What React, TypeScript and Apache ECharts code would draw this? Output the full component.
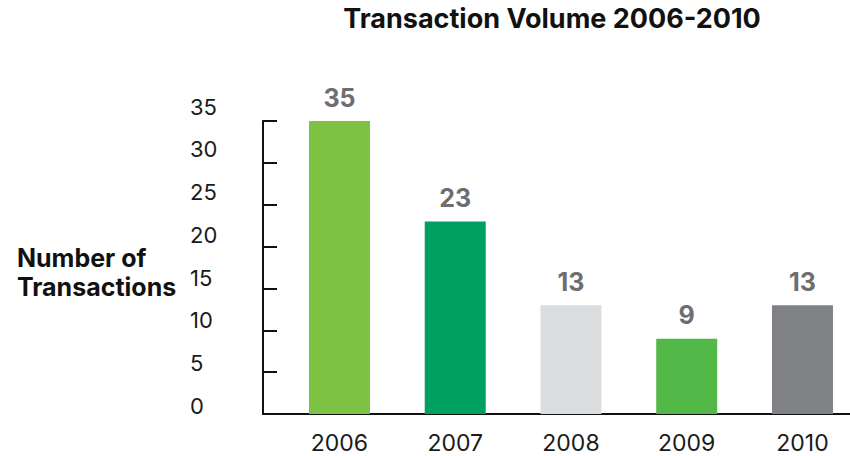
import React, { useEffect, useRef } from "react";
import * as echarts from "echarts";

const years = ["2006", "2007", "2008", "2009", "2010"];
const transactions = [35, 23, 13, 9, 13];
const barColors = ["#7dc242", "#00a160", "#dcdddf", "#52b848", "#808184"];
const yMin = 0;
const yMax = 35;
const yStep = 5;

const FONT = "Inter";

export default function App() {
  const ref = useRef<HTMLDivElement>(null);

  useEffect(() => {
    document.body.style.margin = "0";
    if (!ref.current) return;
    const chart = echarts.init(ref.current, null, { renderer: "svg" });

    const option: any = {
      animation: false,
      backgroundColor: "#ffffff",
      title: {
        text: "Transaction Volume 2006-2010",
        left: 547,
        top: 0,
        textAlign: "center",
        textStyle: {
          fontFamily: FONT,
          fontWeight: "bold",
          fontSize: 27,
          color: "#111111",
        },
      },
      grid: [
        { left: 263, right: 0, top: 121, bottom: 42, outerBoundsMode: "none" },
        { left: 281.6, width: 578.75, top: 121, bottom: 42, outerBoundsMode: "none" },
        { left: 190, width: 10, top: 106.7, bottom: 50.2, outerBoundsMode: "none" },
      ],
      xAxis: [
        {
          type: "category",
          gridIndex: 0,
          data: years,
          axisLine: { show: true, lineStyle: { color: "#111111", width: 2 } },
          axisTick: { show: false },
          axisLabel: { show: false },
        },
        {
          type: "category",
          gridIndex: 1,
          data: years,
          axisLine: { show: false },
          axisTick: { show: false },
          axisLabel: {
            show: true,
            margin: 17,
            fontFamily: FONT,
            fontSize: 23,
            color: "#1a1a1a",
          },
        },
        {
          type: "category",
          gridIndex: 2,
          data: years,
          show: false,
        },
      ],
      yAxis: [
        {
          type: "value",
          gridIndex: 0,
          min: yMin,
          max: yMax,
          interval: yStep,
          axisLine: { show: true, lineStyle: { color: "#111111", width: 2 } },
          axisTick: {
            show: true,
            inside: true,
            length: 14,
            lineStyle: { color: "#111111", width: 2 },
          },
          axisLabel: { show: false },
          splitLine: { show: false },
        },
        {
          type: "value",
          gridIndex: 1,
          min: yMin,
          max: yMax,
          interval: yStep,
          show: false,
          splitLine: { show: false },
        },
        {
          type: "value",
          gridIndex: 2,
          min: yMin,
          max: yMax,
          interval: yStep,
          axisLine: { show: false },
          axisTick: { show: false },
          splitLine: { show: false },
          axisLabel: {
            show: true,
            inside: true,
            margin: 0,
            align: "left",
            fontFamily: FONT,
            fontSize: 22,
            color: "#1a1a1a",
          },
        },
      ],
      series: [
        {
          type: "bar",
          xAxisIndex: 1,
          yAxisIndex: 1,
          barWidth: 61,
          data: transactions.map((v, i) => ({
            value: v,
            itemStyle: { color: barColors[i] },
          })),
          label: {
            show: true,
            position: "top",
            distance: 11,
            fontFamily: FONT,
            fontWeight: "bold",
            fontSize: 25,
            color: "#6d6e71",
          },
        },
      ],
      graphic: [
        {
          type: "text",
          left: 17,
          top: 243,
          style: {
            text: "Number of\nTransactions",
            fontFamily: FONT,
            fontWeight: "bold",
            fontSize: 25,
            lineHeight: 29,
            fill: "#111111",
            textAlign: "left",
          },
        },
      ],
    };

    chart.setOption(option);
    return () => {
      chart.dispose();
    };
  }, []);

  return <div ref={ref} style={{ width: 850, height: 456 }} />;
}
